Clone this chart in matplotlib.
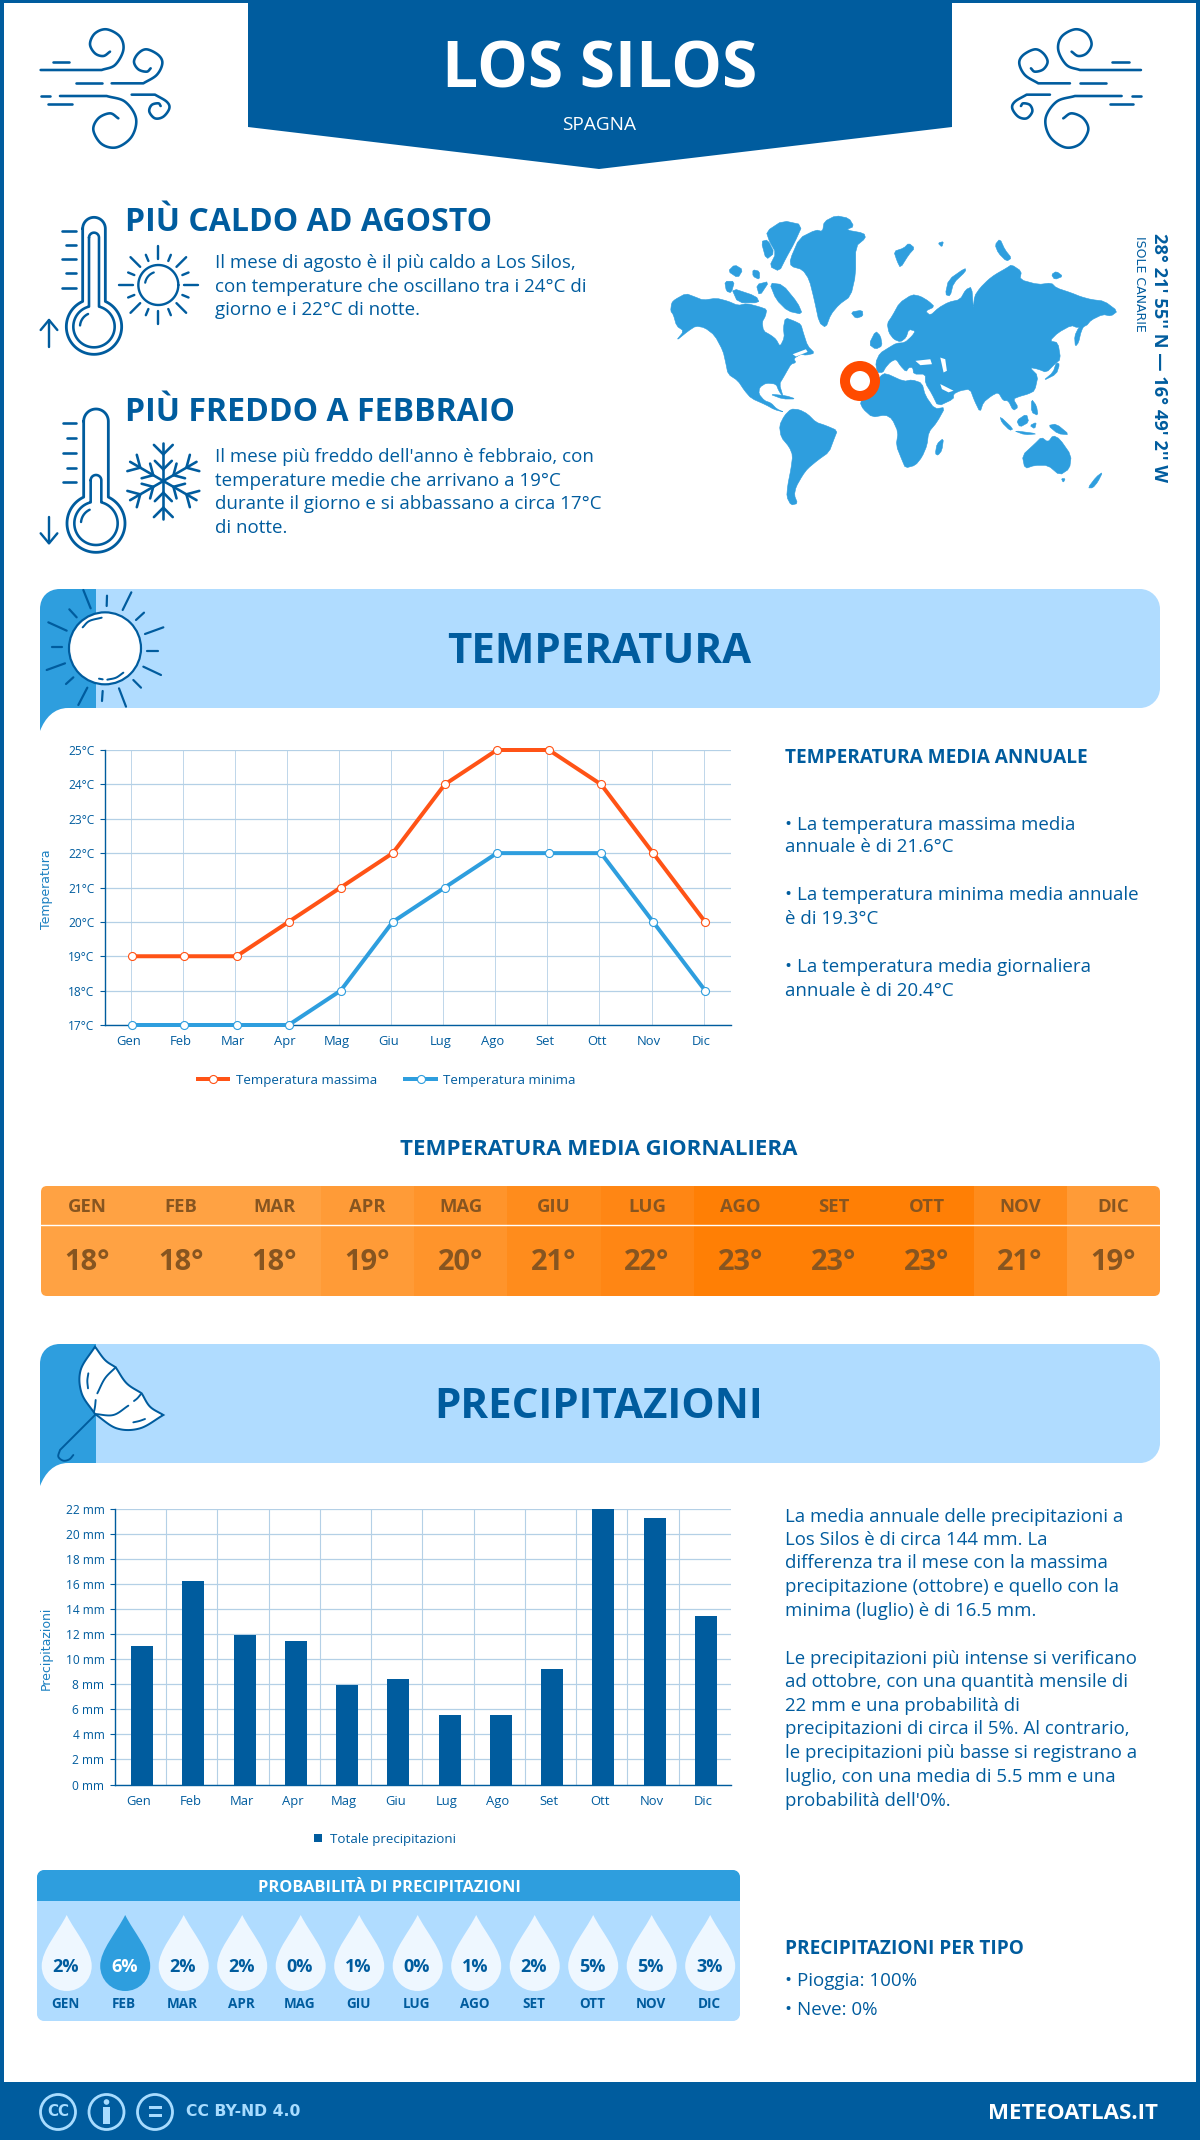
import numpy as np
import matplotlib
matplotlib.use("Agg")
import matplotlib.pyplot as plt
from matplotlib.path import Path
from matplotlib.patches import PathPatch, Polygon, Circle, Rectangle, FancyBboxPatch
from matplotlib.transforms import ScaledTranslation

plt.rcParams['font.family'] = ['Open Sans', 'DejaVu Sans']

# Data
months = ["Gen", "Feb", "Mar", "Apr", "Mag", "Giu", "Lug", "Ago", "Set", "Ott", "Nov", "Dic"]
months_upper = [m.upper() for m in months]
temp_max = [19, 19, 19, 20, 21, 22, 24, 25, 25, 24, 22, 20]
temp_min = [17, 17, 17, 17, 18, 20, 21, 22, 22, 22, 20, 18]
temp_avg = [18, 18, 18, 19, 20, 21, 22, 23, 23, 23, 21, 19]
temp_ticks = [17, 18, 19, 20, 21, 22, 23, 24, 25]
precip = [11.05, 16.25, 11.9, 11.45, 7.95, 8.4, 5.55, 5.55, 9.25, 22, 21.3, 13.45]
precip_ticks = [0, 2, 4, 6, 8, 10, 12, 14, 16, 18, 20, 22]
rain_prob = [2, 6, 2, 2, 0, 1, 0, 1, 2, 5, 5, 3]

hot_text = ["Il mese di agosto è il più caldo a Los Silos,",
            "con temperature che oscillano tra i 24°C di",
            "giorno e i 22°C di notte."]
cold_text = ["Il mese più freddo dell'anno è febbraio, con",
             "temperature medie che arrivano a 19°C",
             "durante il giorno e si abbassano a circa 17°C",
             "di notte."]
temp_notes = ["• La temperatura massima media", "annuale è di 21.6°C",
              "• La temperatura minima media annuale", "è di 19.3°C",
              "• La temperatura media giornaliera", "annuale è di 20.4°C"]
precip_notes = ["La media annuale delle precipitazioni a",
                "Los Silos è di circa 144 mm. La",
                "differenza tra il mese con la massima",
                "precipitazione (ottobre) e quello con la",
                "minima (luglio) è di 16.5 mm.",
                "Le precipitazioni più intense si verificano",
                "ad ottobre, con una quantità mensile di",
                "22 mm e una probabilità di",
                "precipitazioni di circa il 5%. Al contrario,",
                "le precipitazioni più basse si registrano a",
                "luglio, con una media di 5.5 mm e una",
                "probabilità dell'0%."]

# Colours
NAVY = '#005c9e'
BLUE = '#2e9ede'
PALE = '#b0dcff'
RED = '#ff5316'
GRID = '#b4d0e6'
ICE = '#eef7ff'
HEAT = {18: '#ffa243', 19: '#ff9b37', 20: '#ff942b', 21: '#ff8c1c', 22: '#ff8614', 23: '#ff7f05'}
HEAT_TEXT = '#875520'

W, H = 1200, 2140
fig = plt.figure(figsize=(W / 100, H / 100), dpi=100, facecolor='white')
bg = fig.add_axes([0, 0, 1, 1])
bg.set_xlim(0, W)
bg.set_ylim(H, 0)
bg.axis('off')


def px(v):
    return v * 0.72


def label(x, y, s, size, color=NAVY, weight='normal', ha='left', va='center', **kw):
    # capitals sit high in the line box, push them down a bit
    if va == 'center' and s.isupper():
        y = y + 0.1 * size
    return bg.text(x, y, s, fontsize=px(size), color=color, fontweight=weight, ha=ha, va=va, **kw)


def scale(pts, ox, oy, s):
    pts = np.array(pts, dtype=float)
    return np.column_stack([ox + pts[:, 0] / s, oy + pts[:, 1] / s])


def smooth(pts, n=12):
    # Catmull-Rom through the hand placed icon points
    p = np.vstack([2 * pts[0] - pts[1], pts, 2 * pts[-1] - pts[-2]])
    out = []
    for i in range(1, len(p) - 2):
        for t in np.linspace(0, 1, n, endpoint=False):
            out.append(0.5 * (2 * p[i] + (p[i + 1] - p[i - 1]) * t
                              + (2 * p[i - 1] - 5 * p[i] + 4 * p[i + 1] - p[i + 2]) * t ** 2
                              + (3 * p[i] - p[i - 1] - 3 * p[i + 1] + p[i + 2]) * t ** 3))
    out.append(p[-2])
    return np.array(out)


def cut_corners(pts):
    # one round of corner cutting so the coastlines look less angular
    nxt = np.roll(pts, -1, axis=0)
    return np.column_stack([0.8 * pts + 0.2 * nxt, 0.2 * pts + 0.8 * nxt]).reshape(-1, 2)


def stroke(pts, lw=2.0, color=NAVY, z=3, **kw):
    bg.plot(pts[:, 0], pts[:, 1], color=color, lw=px(lw), solid_capstyle='round',
            solid_joinstyle='round', zorder=z, **kw)


def rounded_path(x0, y0, x1, y1, tl=0, tr=0, br=0, bl=0):
    k = 0.45
    v = [(x0 + tl, y0), (x1 - tr, y0), (x1 - tr * k, y0), (x1, y0 + tr * k), (x1, y0 + tr),
         (x1, y1 - br), (x1, y1 - br * k), (x1 - br * k, y1), (x1 - br, y1),
         (x0 + bl, y1), (x0 + bl * k, y1), (x0, y1 - bl * k), (x0, y1 - bl),
         (x0, y0 + tl), (x0, y0 + tl * k), (x0 + tl * k, y0), (x0 + tl, y0)]
    c = [Path.MOVETO, Path.LINETO, Path.CURVE4, Path.CURVE4, Path.CURVE4,
         Path.LINETO, Path.CURVE4, Path.CURVE4, Path.CURVE4,
         Path.LINETO, Path.CURVE4, Path.CURVE4, Path.CURVE4,
         Path.LINETO, Path.CURVE4, Path.CURVE4, Path.CURVE4]
    return Path(v, c)


def filled(path, color, z=1, **kw):
    bg.add_patch(PathPatch(path, facecolor=color, edgecolor='none', lw=0, zorder=z, **kw))


# Frame and header
bg.add_patch(Rectangle((0, 0), W, 3, color=NAVY, lw=0))
bg.add_patch(Rectangle((0, 0), 4, H, color=NAVY, lw=0))
bg.add_patch(Rectangle((W - 4, 0), 4, H, color=NAVY, lw=0))
bg.add_patch(Polygon([(248, 0), (952, 0), (952, 127), (599, 169), (248, 127)], color=NAVY, lw=0))
label(600, 65, "LOS SILOS", 64, color='white', weight='bold', ha='center')
label(599, 123, "SPAGNA", 19, color='white', ha='center')

# Wind icons, the right one is the left one mirrored
wind_curved = [
    [(32, 150), (215, 150), (255, 135), (280, 90), (270, 50), (230, 28), (195, 40), (180, 72), (195, 100), (220, 108), (240, 95)],
    [(245, 190), (340, 190), (380, 165), (397, 130), (385, 105), (350, 88), (325, 100), (312, 125), (325, 148), (350, 155), (362, 145)],
    [(90, 228), (230, 228), (285, 245), (318, 295), (305, 350), (260, 382), (215, 372), (190, 330), (205, 295), (240, 280), (265, 295)],
    [(305, 224), (375, 224), (410, 245), (418, 265), (400, 290), (375, 295), (358, 275), (365, 255), (385, 250), (392, 258)],
]
wind_dashes = [[(68, 125), (118, 125)], [(138, 190), (215, 190)], [(32, 228), (60, 228)], [(55, 252), (125, 252)]]
for mirror in (False, True):
    for seg in wind_curved + wind_dashes:
        p = scale(seg, 30, 20, 3)
        if len(seg) > 2:
            # keep the long straight start straight
            p = np.vstack([p[:1], smooth(p[1:])])
        if mirror:
            p[:, 0] = 1181.6 - p[:, 0]
        stroke(p, 2.6)


# Thermometers
def arc(cx, cy, r, a0, a1, n=60):
    a = np.radians(np.linspace(a0, a1, n))
    return np.column_stack([cx + r * np.cos(a), cy + r * np.sin(a)])


def thermo_shape(cx, cy, R, half, top):
    # stem plus bulb, angles measured on screen with y down
    a = np.degrees(np.arcsin(half / R))
    stem_top = arc(cx, top + half, half, 180, 360, 30)
    bulb = arc(cx, cy, R, -90 + a, 270 - a, 90)
    return np.vstack([stem_top, bulb, stem_top[:1]])


def thermometer(ox, oy, cx, cy, R, r, half, inner_half, top, inner_top, ticks, arrow_up):
    stroke(scale(thermo_shape(cx, cy, R, half, top), ox, oy, 3), 2.8)
    stroke(scale(thermo_shape(cx, cy, r, inner_half, inner_top), ox, oy, 3), 2.6)
    stroke(scale(arc(cx, cy, r - 20, 185, 245, 15), ox, oy, 3), 2.4)
    for x0, y in ticks:
        stroke(scale([(x0, y), (x0 + (135 - x0) + 4, y)], ox, oy, 3), 2.6)
    ax_x = 57
    if arrow_up:
        stroke(scale([(ax_x, 425), (ax_x, 345)], ox, oy, 3), 2.4)
        stroke(scale([(32, 375), (ax_x, 345), (82, 375)], ox, oy, 3), 2.4)
    else:
        stroke(scale([(ax_x, 365), (ax_x, 445)], ox, oy, 3), 2.4)
        stroke(scale([(32, 415), (ax_x, 445), (82, 415)], ox, oy, 3), 2.4)


thermometer(30, 205, 192, 365, 83, 62, 34, 15, 37, 83,
            [(97, 77), (107, 120), (97, 163), (107, 205), (97, 248)], True)
thermometer(30, 395, 198, 385, 87, 65, 37, 16, 42, 240,
            [(100, 85), (110, 130), (100, 174), (110, 218), (100, 262)], False)

# Small sun
sx, sy = 385, 240
stroke(scale(arc(sx, sy, 60, 0, 360), 30, 205, 3), 2.4)
stroke(scale(arc(sx, sy, 40, 190, 250, 15), 30, 205, 3), 2.2)
for k in range(16):
    a = np.radians(k * 22.5)
    r0, r1 = (77, 118) if k % 2 == 0 else (78, 98)
    stroke(scale([(sx + r0 * np.cos(a), sy + r0 * np.sin(a)), (sx + r1 * np.cos(a), sy + r1 * np.sin(a))], 30, 205, 3), 2.4)

# Snowflake
fx, fy = 400, 258
for k in range(6):
    a = np.radians(90 + k * 60)
    d = np.array([np.cos(a), np.sin(a)])
    c = np.array([fx, fy])
    stroke(scale([c, c + 115 * d], 30, 395, 3), 2.6)
    for dist, wing in ((80, 40), (35, 36)):
        base = c + dist * d
        for side in (-1, 1):
            b = a + side * np.radians(45)
            stroke(scale([base, base + wing * np.array([np.cos(b), np.sin(b)])], 30, 395, 3), 2.6)

label(125, 219, "PIÙ CALDO AD AGOSTO", 32, weight='bold')
label(125, 409, "PIÙ FREDDO A FEBBRAIO", 32, weight='bold')
for y, s in zip([263, 286.5, 310], hot_text):
    label(215, y, s, 18.8)
for y, s in zip([457, 480.5, 504, 528], cold_text):
    label(215, y, s, 18.8)

# World map, outlines
land = [
    # north america
    [(35, 310), (45, 300), (78, 282), (105, 292), (130, 302), (170, 296), (205, 305), (235, 318), (262, 312), (300, 322), (322, 330), (318, 350), (308, 368), (312, 395), (335, 408), (350, 420), (362, 442), (375, 415), (372, 385), (378, 355), (405, 365), (425, 375), (432, 400), (445, 440), (467, 462), (440, 468), (425, 465), (403, 478), (410, 490), (395, 495), (385, 512), (372, 535), (360, 555), (372, 595), (358, 575), (350, 555), (320, 552), (300, 565), (298, 585), (315, 605), (335, 612), (352, 630), (375, 640), (345, 632), (320, 618), (275, 598), (255, 575), (235, 545), (205, 525), (198, 490), (190, 455), (165, 408), (135, 385), (108, 380), (85, 395), (48, 425), (72, 395), (50, 380), (40, 345), (32, 335)],
    # arctic islands
    [(205, 215), (225, 195), (250, 210), (235, 235)], [(195, 245), (225, 245), (215, 280), (200, 275)],
    [(280, 210), (300, 215), (300, 240), (280, 230)], [(215, 265), (290, 290), (300, 310), (235, 310)],
    [(305, 125), (325, 120), (345, 160), (320, 180)],
    [(320, 95), (370, 62), (430, 75), (405, 130), (380, 175), (360, 215), (330, 200), (350, 160), (330, 125)],
    [(330, 250), (370, 255), (415, 310), (430, 345), (385, 335), (350, 300)], [(290, 255), (330, 245), (300, 290)],
    # greenland, iceland, svalbard
    [(392, 180), (420, 115), (470, 90), (490, 95), (495, 65), (530, 47), (570, 55), (585, 80), (560, 90), (615, 100), (620, 115), (590, 140), (590, 225), (575, 290), (540, 315), (515, 345), (500, 385), (480, 370), (465, 300), (450, 240), (430, 210), (395, 200)],
    [(575, 338), (610, 332), (612, 350), (590, 357)],
    [(705, 155), (735, 145), (750, 130), (768, 145), (750, 165), (725, 205), (715, 185)],
    [(838, 130), (855, 125), (850, 142)],
    [(860, 285), (870, 240), (920, 205), (922, 215), (885, 250), (875, 290)],
    [(1010, 135), (1025, 117), (1040, 150), (1060, 175), (1045, 185), (1020, 160)],
    [(1180, 225), (1195, 215), (1215, 230), (1190, 240)],
    # uk
    [(630, 435), (650, 395), (665, 410), (670, 440), (650, 450)],
    # eurasia
    [(655, 520), (650, 490), (663, 462), (690, 445), (712, 432), (738, 430), (760, 410), (770, 395), (750, 390), (742, 415), (725, 428), (705, 420), (690, 400), (685, 372), (700, 350), (722, 310), (760, 285), (785, 290), (810, 305), (828, 322), (800, 335), (815, 348), (840, 325), (870, 308), (905, 300), (922, 270), (940, 262), (945, 330), (948, 290), (965, 265), (990, 240), (1010, 225), (1045, 205), (1060, 195), (1090, 215), (1085, 240), (1140, 255), (1180, 250), (1195, 265), (1240, 280), (1270, 292), (1300, 300), (1340, 305), (1380, 335), (1360, 350), (1335, 345), (1300, 362), (1285, 380), (1258, 385), (1240, 378), (1200, 400), (1175, 425), (1200, 430), (1208, 480), (1190, 495), (1165, 520), (1140, 510), (1115, 505), (1140, 530), (1130, 575), (1110, 585), (1085, 592), (1065, 600), (1080, 625), (1065, 635), (1050, 605), (1035, 605), (1020, 580), (1000, 590), (975, 610), (965, 640), (948, 605), (935, 570), (905, 575), (885, 585), (885, 600), (838, 622), (820, 585), (800, 552), (800, 525), (765, 525), (762, 505), (750, 505), (742, 518), (725, 500), (712, 480), (695, 488), (680, 505), (672, 520)],
    # kamchatka, japan
    [(1285, 368), (1270, 395), (1262, 430), (1252, 442), (1250, 410), (1262, 385)],
    [(1155, 545), (1185, 520), (1195, 490), (1205, 495), (1195, 525)],
    # africa and madagascar
    [(625, 575), (650, 555), (665, 530), (680, 522), (735, 547), (760, 542), (790, 552), (800, 590), (828, 630), (860, 625), (835, 670), (810, 700), (805, 740), (790, 775), (770, 800), (740, 808), (730, 785), (712, 740), (718, 700), (700, 660), (680, 648), (640, 655), (612, 630), (603, 610)],
    [(830, 765), (835, 735), (855, 718), (850, 755), (838, 770)],
    # south america
    [(360, 680), (375, 650), (395, 630), (420, 632), (445, 645), (470, 670), (500, 680), (535, 695), (525, 720), (510, 760), (475, 785), (445, 810), (430, 830), (410, 865), (405, 890), (415, 915), (395, 920), (382, 895), (385, 860), (395, 810), (400, 770), (390, 745), (365, 715)],
    # australia and the islands
    [(1092, 770), (1130, 735), (1150, 715), (1170, 730), (1185, 710), (1205, 720), (1240, 770), (1235, 810), (1205, 830), (1170, 800), (1130, 800), (1100, 810)],
    [(1210, 840), (1222, 840), (1216, 852)], [(1290, 868), (1315, 835), (1335, 820), (1320, 850), (1305, 868)],
    [(1170, 680), (1195, 675), (1235, 708), (1200, 705)], [(1075, 665), (1105, 645), (1112, 670), (1085, 685)],
    [(1025, 652), (1065, 690), (1055, 695), (1030, 670)], [(1065, 695), (1140, 705), (1100, 708)],
    [(1115, 680), (1135, 670), (1130, 690)], [(1120, 600), (1135, 620), (1140, 650), (1120, 640)],
    [(330, 585), (380, 590), (410, 600), (370, 600)],
]
water = [
    [(770, 485), (815, 480), (820, 495), (785, 498)], [(845, 475), (860, 480), (865, 515), (855, 520)],
    [(845, 555), (885, 575), (870, 580), (850, 570)], [(400, 465), (440, 450), (445, 458), (410, 472)],
]
for poly in land:
    outline = cut_corners(scale(poly, 660, 200, 3.015))
    bg.add_patch(Polygon(outline, closed=True, facecolor=BLUE, edgecolor=BLUE, lw=0.4, zorder=1))
for poly in water:
    bg.add_patch(Polygon(scale(poly, 660, 200, 3.015), closed=True, facecolor='white', edgecolor='none', zorder=1.5))
bg.add_patch(Circle((860, 381), 15, facecolor='white', edgecolor='#ff4b00', lw=px(10), zorder=2))

label(1159, 233, "28° 21' 55'' N — 16° 49' 2'' W", 18.3, weight='bold', ha='center', va='top', rotation=270)
label(1140, 236, "ISOLE CANARIE", 12.5, ha='center', va='top', rotation=270, family=['DejaVu Sans'])


# Section banners
def banner(top, title):
    bottom = top + 119
    filled(rounded_path(90, top, 1160, bottom, tr=20, br=20), PALE)
    v = [(40, bottom + 23), (40, top + 20), (40, top + 8), (48, top), (60, top), (96, top), (96, bottom),
         (68, bottom), (54, bottom), (45, bottom + 10), (40, bottom + 23)]
    c = [Path.MOVETO, Path.LINETO, Path.CURVE4, Path.CURVE4, Path.CURVE4, Path.LINETO, Path.LINETO,
         Path.LINETO, Path.CURVE4, Path.CURVE4, Path.CURVE4]
    filled(Path(v, c), BLUE, z=1.2)
    label(599, top + 59, title, 42, weight='bold', ha='center')


banner(589, "TEMPERATURA")
banner(1344, "PRECIPITAZIONI")

# Banner sun
sun_o = (30, 585)
bg.add_patch(Circle(tuple(scale([(225, 190)], *sun_o, 3)[0]), 36, facecolor='white', edgecolor=NAVY, lw=px(2.2), zorder=3))
sun_rays = [[(160, 15), (182, 70)], [(118, 73), (140, 97)], [(55, 112), (110, 137)], [(67, 185), (97, 185)],
            [(50, 255), (105, 235)], [(108, 297), (130, 277)], [(145, 360), (172, 308)], [(216, 348), (218, 318)],
            [(267, 310), (288, 365)], [(310, 285), (333, 308)], [(340, 245), (393, 270)], [(352, 197), (383, 197)],
            [(345, 147), (400, 127)], [(318, 105), (342, 83)], [(278, 75), (304, 22)], [(230, 63), (231, 32)]]
for seg in sun_rays:
    stroke(scale(seg, *sun_o, 3), 2.2)
stroke(smooth(scale([(158, 127), (178, 108), (215, 98)], *sun_o, 3)), 2.0, z=4)
stroke(smooth(scale([(232, 284), (258, 278), (280, 263)], *sun_o, 3)), 2.0, z=4)
stroke(scale([(207, 281), (218, 283)], *sun_o, 3), 2.0, z=4)

# Banner umbrella
um = (30, 1340)
edge = np.vstack([smooth(scale(s, *um, 3)) for s in [
    [(195, 20), (225, 60), (257, 82)], [(257, 82), (290, 130), (335, 160)], [(335, 160), (360, 200), (400, 225)],
    [(400, 225), (330, 265), (260, 265), (195, 222)], [(195, 222), (155, 160), (152, 90), (195, 20)]]])
bg.add_patch(Polygon(edge, closed=True, facecolor='white', edgecolor=NAVY, lw=px(2), zorder=3))
for seg in [[(195, 222), (250, 225), (295, 197)], [(312, 183), (322, 175), (333, 162)], [(202, 160), (225, 115), (257, 82)],
            [(192, 215), (195, 200), (197, 180)], [(175, 100), (172, 122), (174, 145)], [(310, 247), (328, 243), (345, 237)]]:
    stroke(smooth(scale(seg, *um, 3)), 1.9, z=4)
stroke(np.vstack([scale([(195, 225)], *um, 3), smooth(scale([(90, 330), (85, 350), (100, 362), (118, 358), (130, 345)], *um, 3))]), 1.9, z=4)


# Temperature chart
def chart_axes(left, right, top, bottom):
    ax = fig.add_axes([left / W, 1 - bottom / H, (right - left) / W, (bottom - top) / H])
    ax.patch.set_alpha(0)
    ax.set_axisbelow(True)
    for side in ('top', 'right'):
        ax.spines[side].set_visible(False)
    for side in ('left', 'bottom'):
        ax.spines[side].set_color(NAVY)
        ax.spines[side].set_linewidth(1.0)
    ax.tick_params(axis='y', length=3.6, width=0.8, color=NAVY, labelcolor=NAVY, labelsize=px(12), pad=4)
    ax.tick_params(axis='x', which='both', length=0, labelcolor=NAVY, labelsize=px(13), pad=7.5)
    return ax


x = np.arange(12)
ax1 = chart_axes(105, 731, 750, 1025)
ax1.plot(x, temp_max, color=RED, lw=px(4), marker='o', ms=px(8), mfc='white', mec=RED, mew=0.8,
         clip_on=False, zorder=4, label="Temperatura massima")
ax1.plot(x, temp_min, color=BLUE, lw=px(4), marker='o', ms=px(8), mfc='white', mec=BLUE, mew=0.8,
         clip_on=False, zorder=4, label="Temperatura minima")
ax1.set_xlim(-0.526, 11.496)
ax1.set_ylim(temp_ticks[0], temp_ticks[-1])
ax1.set_yticks(temp_ticks)
ax1.set_yticklabels([f"{t}°C" for t in temp_ticks])
ax1.set_xticks(x - 0.03)
ax1.set_xticklabels(months)
for t in ax1.get_xticklabels():
    t.set_transform(t.get_transform() + ScaledTranslation(-2.5 / 100, 0, fig.dpi_scale_trans))
ax1.grid(axis='y', color=GRID, lw=0.9)
ax1.grid(axis='x', color=GRID, lw=0.6)
ax1.set_ylabel("Temperatura", family=['DejaVu Sans'], fontsize=px(12.5), color='#1a7fc0')
ax1.yaxis.set_label_coords(-0.083, 0.495)
ax1.legend(loc='center', bbox_to_anchor=(0.45, -0.2), ncol=2, frameon=False, labelcolor=NAVY, fontsize=px(13.4),
           handlelength=2.3, handletextpad=0.55, columnspacing=2.1)

label(785, 756, "TEMPERATURA MEDIA ANNUALE", 19, weight='bold')
for y, s in zip([824.5, 847.5, 895, 919, 966.5, 990.5], temp_notes):
    label(785, y, s, 18.8)

# Mean temperature strip
label(599, 1147, "TEMPERATURA MEDIA GIORNALIERA", 22.3, weight='bold', ha='center')
strip_left, strip_right, strip_top, strip_bottom = 41, 1160, 1186, 1296
strip_w = (strip_right - strip_left) / len(months)
clip = FancyBboxPatch((strip_left, strip_top), strip_right - strip_left, strip_bottom - strip_top,
                      boxstyle="round,pad=0,rounding_size=6", transform=bg.transData, facecolor='none', edgecolor='none')
bg.add_patch(clip)
for i, (m, t) in enumerate(zip(months_upper, temp_avg)):
    cell = bg.add_patch(Rectangle((strip_left + i * strip_w, strip_top), strip_w + 0.5, strip_bottom - strip_top,
                                  facecolor=HEAT[t], edgecolor='none', zorder=1))
    cell.set_clip_path(clip)
    cx = strip_left + (i + 0.5) * strip_w
    label(cx, 1205, m, 18.5, color=HEAT_TEXT, weight='bold', ha='center', zorder=3)
    label(cx, 1263, f"{t}°", 29, color=HEAT_TEXT, weight='bold', ha='center', zorder=3)
bg.plot([strip_left, strip_right], [1225, 1225], color='white', lw=1.0, zorder=2)

# Precipitation chart
ax2 = chart_axes(115, 731, 1509, 1784.5)
ax2.bar(x, precip, width=0.43, color=NAVY, zorder=3, label="Totale precipitazioni")
ax2.set_xlim(-0.527, 11.49)
ax2.set_ylim(precip_ticks[0], precip_ticks[-1])
ax2.set_yticks(precip_ticks)
ax2.set_yticklabels([f"{t} mm" for t in precip_ticks])
ax2.set_xticks(x)
ax2.set_xticklabels(months)
for t in ax2.get_xticklabels():
    t.set_transform(t.get_transform() + ScaledTranslation(-3 / 100, 0, fig.dpi_scale_trans))
ax2.set_xticks(x[:-1] + 0.47, minor=True)
ax2.grid(axis='y', color=GRID, lw=0.9)
ax2.grid(axis='x', which='minor', color=GRID, lw=0.8)
ax2.set_ylabel("Precipitazioni", family=['DejaVu Sans'], fontsize=px(12.5), color='#1a7fc0')
ax2.yaxis.set_label_coords(-0.1006, 0.495)
ax2.legend(loc='center', bbox_to_anchor=(0.438, -0.198), frameon=False, labelcolor=NAVY, fontsize=px(13.4),
           handlelength=0.6, handleheight=0.6, handletextpad=0.6)

for y, s in zip([1516.5, 1540, 1563.5, 1587, 1611.5, 1658.5, 1682, 1706, 1729, 1753.5, 1777, 1801], precip_notes):
    label(785, y, s, 18.6)

# Probability panel
filled(rounded_path(37, 1870, 740, 1901, tl=7, tr=7), BLUE)
filled(rounded_path(37, 1901, 740, 2021, bl=7, br=7), PALE)
label(389, 1886, "PROBABILITÀ DI PRECIPITAZIONI", 16.4, color='white', weight='bold', ha='center')
peak = max(rain_prob)
for i, (m, p) in enumerate(zip(months_upper, rain_prob)):
    cx = 66.7 + i * 58.5
    r, cy = 25, 1966
    k = 0.552 * r
    v = [(cx, 1915), (cx + 9, 1933), (cx + r, 1950), (cx + r, cy), (cx + r, cy + k), (cx + k, cy + r), (cx, cy + r),
         (cx - k, cy + r), (cx - r, cy + k), (cx - r, cy), (cx - r, 1950), (cx - 9, 1933), (cx, 1915)]
    filled(Path(v, [Path.MOVETO] + [Path.CURVE4] * 12), BLUE if p == peak else ICE, z=2)
    label(cx - 1, 1967, f"{p}%", 18, color='white' if p == peak else NAVY, weight='bold', ha='center', zorder=3)
    label(cx - 1, 2003, m, 13.5, weight='bold', ha='center', zorder=3)

label(785, 1947, "PRECIPITAZIONI PER TIPO", 19, weight='bold')
label(785, 1981, "• Pioggia: 100%", 18.8)
label(785, 2010, "• Neve: 0%", 18.8)

# Footer
FOOT = '#a8dcff'
bg.add_patch(Rectangle((0, 2082), W, H - 2082, color=NAVY, lw=0))
for cx in (58, 106.5, 155):
    bg.add_patch(Circle((cx, 2112), 17.5, facecolor='none', edgecolor=FOOT, lw=px(2.8), zorder=3))
bg.text(58, 2111, "CC", fontsize=px(15), color=FOOT, fontweight='bold', ha='center', va='center', family=['DejaVu Sans'], zorder=3)
bg.add_patch(Circle((106.5, 2102), 2.8, color=FOOT, lw=0, zorder=3))
bg.add_patch(Rectangle((103, 2107), 7, 17, color=FOOT, lw=0, zorder=3))
bg.add_patch(Rectangle((148.5, 2106), 13, 3.2, color=FOOT, lw=0, zorder=3))
bg.add_patch(Rectangle((148.5, 2114), 13, 3.2, color=FOOT, lw=0, zorder=3))
bg.text(186, 2112, "CC BY-ND 4.0", fontsize=px(15.6), color=FOOT, fontweight='bold', ha='left', va='center', family=['DejaVu Sans'], zorder=3)
label(1158, 2111, "METEOATLAS.IT", 22.3, color='white', weight='bold', ha='right', zorder=3)

fig.savefig("out.png", dpi=100, facecolor='white')
